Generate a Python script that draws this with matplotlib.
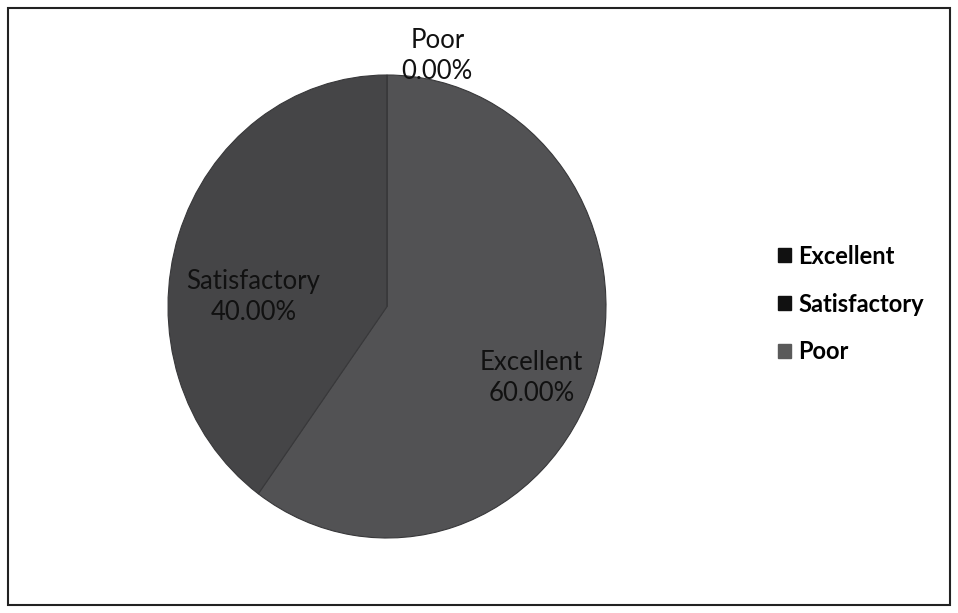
import matplotlib.pyplot as plt
from matplotlib.patches import Rectangle, Patch

# data
categories = ['Excellent', 'Satisfactory', 'Poor']
shares = [60.0, 40.0, 0.0]
colors = ['#525254', '#454547', '#6e6e6e']
legend_colors = ['#111111', '#111111', '#5a5a5a']

plt.rcParams['font.family'] = ['Lato', 'DejaVu Sans']

fig = plt.figure(figsize=(9.58, 6.13), dpi=100)
fig.patch.set_facecolor('white')

# outer frame
fig.patches.append(Rectangle((8 / 958, 8 / 613), 942 / 958, 597 / 613, transform=fig.transFigure,
                             fill=False, edgecolor='#222222', linewidth=1.5))

ax = fig.add_axes([168 / 958, 75 / 613, 438 / 958, 463 / 613])
wedges, _ = ax.pie(shares, colors=colors, startangle=90, counterclock=False,
                   wedgeprops=dict(edgecolor='#38383a', linewidth=0.8))
ax.set_aspect('auto')
ax.set_xlim(-1, 1)
ax.set_ylim(-1, 1)
ax.axis('off')

# data labels (position per wedge)
label_pos = {'Excellent': (0.66, -0.31), 'Satisfactory': (-0.61, 0.04), 'Poor': (0.23, 1.08)}
for name, val in zip(categories, shares):
    x, y = label_pos[name]
    ax.text(x, y, f'{name}\n{val:.2f}%', ha='center', va='center', fontsize=18.5,
            color='#111111', linespacing=1.3, clip_on=False)

handles = [Patch(facecolor=c, edgecolor=c) for c in legend_colors]
fig.legend(handles, categories, loc='center left', bbox_to_anchor=(757 / 958, 1 - 304 / 613),
           frameon=False, handlelength=0.55, handleheight=0.55, handletextpad=0.3,
           labelspacing=1.05, prop=dict(family='Lato', weight='bold', size=17))

fig.savefig('out.png', dpi=100)
